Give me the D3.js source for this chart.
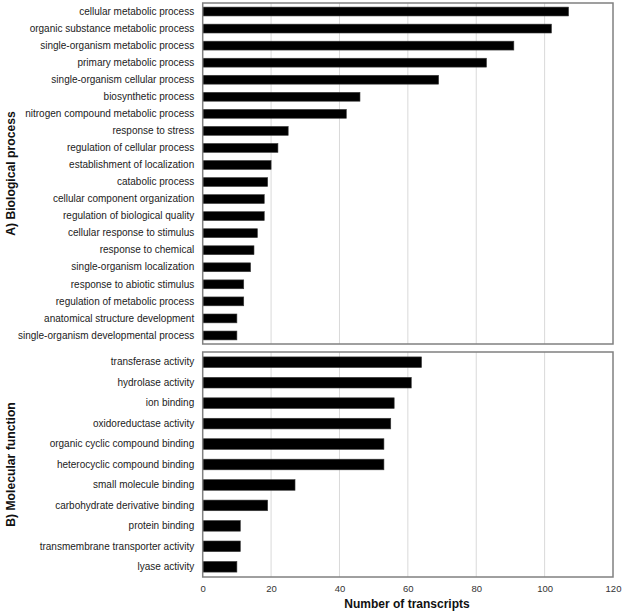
<!DOCTYPE html>
<html><head><meta charset="utf-8">
<script src="https://cdn.jsdelivr.net/npm/d3@7"></script>
<style>body{margin:0;background:#fff;}svg{display:block;font-family:"Liberation Sans",Arial,sans-serif;}</style>
</head><body>
<script>
const bpCategories = ["cellular metabolic process","organic substance metabolic process","single-organism metabolic process","primary metabolic process","single-organism cellular process","biosynthetic process","nitrogen compound metabolic process","response to stress","regulation of cellular process","establishment of localization","catabolic process","cellular component organization","regulation of biological quality","cellular response to stimulus","response to chemical","single-organism localization","response to abiotic stimulus","regulation of metabolic process","anatomical structure development","single-organism developmental process"];
const bpValues = [107,102,91,83,69,46,42,25,22,20,19,18,18,16,15,14,12,12,10,10];
const mfCategories = ["transferase activity","hydrolase activity","ion binding","oxidoreductase activity","organic cyclic compound binding","heterocyclic compound binding","small molecule binding","carbohydrate derivative binding","protein binding","transmembrane transporter activity","lyase activity"];
const mfValues = [64,61,56,55,53,53,27,19,11,11,10];
const xTicks = [0,20,40,60,80,100,120];
const panelTitles = ["A) Biological process","B) Molecular function"];
const xTitle = "Number of transcripts";

const W=625,H=614;
const svg=d3.select("body").append("svg").attr("width",W).attr("height",H);
const x=d3.scaleLinear().domain([0,120]).range([202.7,613]);

const panels=[
  {cats:bpCategories,vals:bpValues,top:3,bottom:344,title:panelTitles[0]},
  {cats:mfCategories,vals:mfValues,top:352,bottom:577,title:panelTitles[1]}
];

panels.forEach(p=>{
  const y=d3.scaleBand().domain(p.cats).range([p.top,p.bottom]).paddingInner(0.48).paddingOuter(0.24);
  const g=svg.append("g");
  g.selectAll("line.grid").data(xTicks.slice(1,-1)).join("line")
    .attr("x1",d=>x(d)).attr("x2",d=>x(d)).attr("y1",p.top).attr("y2",p.bottom)
    .attr("stroke","#d9d9d9").attr("stroke-width",1);
  g.selectAll("rect.bar").data(p.vals).join("rect")
    .attr("x",x(0)).attr("y",(d,i)=>y(p.cats[i]))
    .attr("width",d=>x(d)-x(0)).attr("height",y.bandwidth())
    .attr("fill","#000").attr("stroke","#3a3a3a").attr("stroke-width",0.6);
  g.append("rect").attr("x",x(0)).attr("y",p.top).attr("width",x(120)-x(0)).attr("height",p.bottom-p.top)
    .attr("fill","none").attr("stroke","#808080").attr("stroke-width",1.5);
  const ax=d3.axisLeft(y).tickSize(0).tickPadding(8.5);
  const ag=g.append("g").attr("transform",`translate(${x(0)},0)`).call(ax);
  ag.select(".domain").remove();
  ag.selectAll("text").attr("font-size",10).attr("fill","#222").style("font-family","'Liberation Sans',Arial,sans-serif");
  svg.append("text").attr("transform",`translate(14.5,${(p.top+p.bottom)/2}) rotate(-90)`)
    .attr("text-anchor","middle").attr("font-weight","bold").attr("font-size",12.2).attr("fill","#111").text(p.title);
});

const xa=d3.axisBottom(x).tickValues(xTicks).tickSize(0).tickPadding(8);
const xg=svg.append("g").attr("transform","translate(0,577)").call(xa);
xg.select(".domain").remove();
xg.selectAll("text").attr("font-size",9.5).attr("fill","#333").style("font-family","'Liberation Sans',Arial,sans-serif");
svg.append("text").attr("x",407).attr("y",607.5).attr("text-anchor","middle").attr("font-weight","bold").attr("font-size",12).attr("fill","#111").text(xTitle);
</script>
</body></html>
